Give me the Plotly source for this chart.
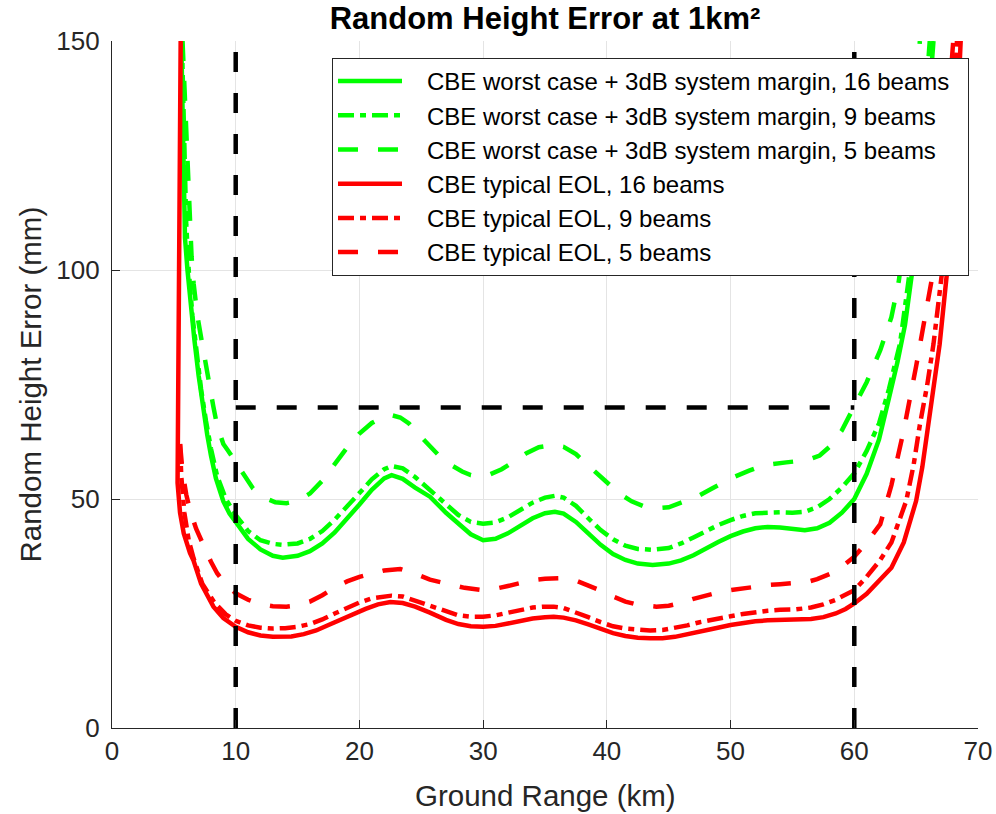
import plotly.graph_objects as go

# ---- data ----
g16_x = [5.6, 5.75, 5.9, 6.1, 6.35, 6.65, 7.0, 7.35, 7.7, 8.0, 8.4, 9.0, 9.5, 10, 11, 12, 13, 13.8, 15, 16, 17, 18, 19, 20, 21, 22, 22.6, 23.5, 24.5, 25.7, 27, 28, 29, 30, 31, 32, 33, 34, 35, 35.8, 36.5, 37.5, 38.5, 39.5, 40.5, 41.5, 42.5, 43.7, 45, 46, 47, 48, 49, 50, 51, 52, 53, 54, 55, 56, 57, 58, 59, 60, 61, 62, 62.8, 63.5, 64.1, 64.7, 65.3, 65.9, 66.4]
g16_y = [150, 125, 107, 100, 92, 85, 77, 70, 64, 59.5, 54.5, 49.5, 46.8, 45, 41.3, 39, 37.6, 37.2, 37.6, 38.6, 40.3, 42.7, 45.6, 48.8, 52, 54.5, 55.2, 54.4, 52.5, 50.5, 47, 44.5, 42.3, 41, 41.3, 42.5, 44.2, 45.8, 46.9, 47.2, 46.8, 45, 42.5, 40, 38, 36.7, 35.9, 35.6, 35.9, 36.6, 37.7, 39.2, 40.6, 41.9, 42.9, 43.6, 43.9, 43.8, 43.4, 43.2, 43.6, 44.8, 47, 50, 55.5, 63, 72, 80, 88, 100, 115, 132, 150]

g9_x = [5.65, 5.85, 6.0, 6.2, 6.5, 6.85, 7.2, 7.6, 8.0, 8.5, 9.2, 10, 11, 12, 13, 13.8, 15, 16, 17, 18, 19, 20, 21, 22, 22.6, 23.5, 24.5, 25.7, 27, 28, 29, 30, 31, 32, 33, 34, 35, 35.8, 36.5, 37.5, 38.5, 39.5, 40.5, 41.5, 42.5, 43.7, 45, 46, 47, 48, 49, 50, 51, 52, 53, 54, 55, 56, 57, 58, 59, 60, 61, 62, 62.8, 63.7, 64.5, 65.2, 65.7, 66.1]
g9_y = [150, 125, 110, 100, 90, 82, 74, 67, 61, 55, 50, 46.5, 43, 41, 40.2, 40, 40.3, 41.3, 43, 45.5, 48.3, 51.3, 54.3, 56.5, 57.2, 56.7, 54.8, 52, 48.8, 46.5, 45, 44.6, 44.9, 46, 47.6, 49.2, 50.3, 50.7, 50.3, 48.5, 45.8, 43.2, 41.2, 39.8, 39.1, 38.9, 39.3, 40.3, 41.6, 43, 44.3, 45.4, 46.3, 46.9, 47.1, 47.1, 47, 47.2, 48.2, 50, 52.5, 55.6, 60.5, 66.5, 74, 84, 100, 118, 135, 150]

g5_x = [5.7, 6.0, 6.2, 6.43, 6.6, 6.9, 7.24, 7.65, 8.19, 8.5, 9.0, 9.4, 10, 10.7, 11.4, 12.3, 13.2, 14.1, 15, 16, 17, 18, 19, 20, 21, 22, 22.6, 23.3, 24, 25, 25.7, 26.5, 27.3, 28.3, 29, 29.75, 30.5, 31.5, 32.5, 33.5, 34.5, 35.7, 36.5, 37.5, 38.3, 39.2, 40, 41, 42, 43, 44, 45, 46, 47.3, 48.5, 50, 51.5, 52.7, 54.5, 56.2, 57.2, 58, 59, 60, 61, 62.1, 63, 63.6, 64.2, 64.8, 65.3]
g5_y = [150, 130, 115, 103, 97, 90, 84.7, 78, 70.2, 66, 62, 60.5, 58, 55, 52.3, 50.3, 49.3, 49.1, 49.6, 51.2, 54, 57.6, 61.2, 64.3, 66.6, 68, 68.3, 67.8, 66.5, 63.5, 61.4, 59.3, 57.6, 56, 55.2, 54.9, 55.3, 56.5, 58.2, 60, 61.3, 61.8, 61.4, 59.8, 57.8, 55.6, 53.4, 51.2, 49.5, 48.4, 48, 48.2, 49.2, 50.5, 52.3, 54.5, 56.2, 57.4, 58, 58.5, 59.5, 61.4, 65, 70.2, 75.5, 82.5, 89.7, 97.6, 110, 130, 150]

r16_x = [5.55, 5.45, 5.35, 5.3, 5.3, 5.5, 5.8, 6.3, 6.57, 7.2, 8.2, 9, 10, 11, 12, 13, 13.6, 14.5, 15.5, 16.5, 17.5, 18.5, 19.5, 20.5, 21.5, 22.5, 23.5, 24.5, 25.7, 27, 28, 29, 30, 31, 32, 33, 34, 35, 35.7, 36.5, 37.5, 38.5, 39.5, 40.5, 41.5, 42.5, 43.5, 44.5, 45.5, 46.5, 47.5, 48.5, 50, 51, 52, 53, 54, 55.3, 56.5, 57.5, 58.5, 59.3, 60, 61, 62.1, 63, 64, 65, 65.5, 66, 66.5, 66.9, 67.5, 68, 68.3, 68.6]
r16_y = [150, 110, 75, 60, 53.5, 47, 42.5, 38.2, 36.7, 31.5, 26.5, 24, 22.1, 20.9, 20.2, 19.9, 19.9, 20, 20.5, 21.3, 22.5, 23.7, 24.8, 26, 27, 27.5, 27.3, 26.5, 25.2, 23.6, 22.7, 22.2, 22.1, 22.3, 22.8, 23.4, 23.9, 24.2, 24.3, 24.1, 23.5, 22.6, 21.6, 20.7, 20.1, 19.7, 19.6, 19.6, 19.9, 20.4, 21, 21.6, 22.5, 23, 23.3, 23.5, 23.6, 23.6, 23.8, 24.2, 25, 26, 27.2, 29.3, 32.3, 35, 40.5, 49.6, 57, 66.2, 75, 83.8, 99.6, 118, 132, 150]

r9_x = [5.5, 5.6, 5.85, 6.2, 6.6, 7.3, 8.3, 9.2, 10, 11, 12, 13, 14, 15, 16, 17, 18, 19, 20, 21, 22, 22.6, 23.5, 24.5, 25.7, 27, 28, 29, 30, 31, 32, 33, 34, 35, 35.7, 36.5, 37.5, 38.5, 39.5, 40.5, 41.5, 42.5, 43.5, 44.5, 45.5, 46.5, 47.5, 48.5, 50, 51, 52, 53, 54, 55.3, 56.5, 57.5, 58.5, 59.3, 60, 61, 62.1, 63, 64.2, 64.8, 65.3, 65.9, 66.4, 67.1, 67.6, 68, 68.3]
r9_y = [62, 55, 47, 41, 37, 31.5, 27.3, 24.8, 23.4, 22.4, 21.9, 21.7, 21.8, 22.1, 22.7, 23.7, 25, 26.3, 27.4, 28.3, 28.8, 28.9, 28.7, 27.8, 26.6, 25.3, 24.6, 24.3, 24.3, 24.6, 25.2, 25.8, 26.3, 26.5, 26.5, 26.2, 25.3, 24.2, 23.1, 22.2, 21.7, 21.4, 21.3, 21.4, 21.8, 22.4, 23.1, 23.7, 24.4, 24.9, 25.3, 25.6, 25.8, 25.9, 26.3, 27, 28, 29, 30.1, 33, 36.7, 40.5, 49.6, 57.5, 66.2, 75, 83.8, 99.6, 118, 134, 150]

r5_x = [5.5, 5.7, 6.0, 6.3, 6.8, 7.4, 8.0, 8.5, 9.2, 10, 11, 12, 13, 14.1, 15, 16, 17, 18, 19, 20, 21, 22, 23.3, 24.5, 25.7, 27.3, 28.5, 30, 31, 32, 33, 34, 35, 36.5, 37.5, 38.5, 39.5, 40.5, 41.5, 42.5, 44, 45, 46, 47, 48, 49, 50, 51, 52, 53, 54, 55, 56.2, 57, 58, 59, 60, 61, 62.1, 63, 64, 65, 65.9, 66.5, 67.1, 67.6, 68]
r5_y = [62, 56, 51, 47.6, 43.5, 39.6, 36.3, 33.8, 31.3, 29.4, 28, 27, 26.6, 26.5, 26.8, 27.6, 29, 30.7, 32, 33, 33.8, 34.4, 34.7, 33.7, 32.4, 31.4, 30.6, 30.1, 30.4, 31, 31.7, 32.3, 32.6, 32.7, 32.2, 31.2, 30, 28.7, 27.6, 26.9, 26.5, 26.7, 27.3, 28.2, 29, 29.6, 30.1, 30.5, 30.9, 31.2, 31.4, 31.6, 31.9, 32.5, 33.6, 35.2, 37.4, 40.5, 44.5, 53, 65, 79, 92, 101.5, 118, 135, 150]

ref_v1_x = [10, 10]
ref_v1_y = [0, 150]
ref_v2_x = [60, 60]
ref_v2_y = [0, 150]
ref_h_x = [10, 60]
ref_h_y = [70, 70]

names = [
    "CBE worst case + 3dB system margin, 16 beams",
    "CBE worst case + 3dB system margin, 9 beams",
    "CBE worst case + 3dB system margin, 5 beams",
    "CBE typical EOL, 16 beams",
    "CBE typical EOL, 9 beams",
    "CBE typical EOL, 5 beams",
]
x_ticks = [0, 10, 20, 30, 40, 50, 60, 70]
y_ticks = [0, 50, 100, 150]

GREEN = "#00ff00"
RED = "#ff0000"
DASH = "20px,20px"
DASHDOT = "16px,6px,6px,6px"
LW = 4.5
NB = "\u00a0"

series = [
    (g16_x, g16_y, names[0], GREEN, "solid"),
    (g9_x, g9_y, names[1], GREEN, DASHDOT),
    (g5_x, g5_y, names[2], GREEN, DASH),
    (r16_x, r16_y, names[3], RED, "solid"),
    (r9_x, r9_y, names[4], RED, DASHDOT),
    (r5_x, r5_y, names[5], RED, DASH),
]

fig = go.Figure()
for xs, ys, nm, col, dash in series:
    fig.add_trace(go.Scatter(x=xs, y=ys, name=NB * 3 + nm + NB * 2, mode="lines",
                             line=dict(color=col, width=LW, dash=dash)))

for xs, ys in [(ref_v1_x, ref_v1_y), (ref_v2_x, ref_v2_y), (ref_h_x, ref_h_y)]:
    fig.add_trace(go.Scatter(x=xs, y=ys, mode="lines", showlegend=False,
                             line=dict(color="black", width=4.5, dash="20px,21px")))

FONT = "Liberation Sans, Arial, Helvetica, sans-serif"
AX = "#262626"

fig.update_layout(
    width=996, height=814,
    margin=dict(l=112, r=18, t=41, b=86, autoexpand=False),
    plot_bgcolor="white", paper_bgcolor="white",
    font=dict(family=FONT, color=AX, size=26),
    title=dict(text="<b>Random Height Error at 1km²</b>", x=0.5, xref="paper",
               xanchor="center", y=1 - 18 / 814, yref="container", yanchor="middle",
               font=dict(size=31, color="black", family=FONT)),
    showlegend=True,
    legend=dict(x=(969 - 112) / 866, y=(728 - 58) / 687, xanchor="right", yanchor="top",
                bgcolor="white", bordercolor=AX, borderwidth=1,
                font=dict(size=24, color="black", family=FONT),
                itemwidth=64, tracegroupgap=0),
)
fig.update_xaxes(range=[0, 70], tickvals=x_ticks, ticks="inside", ticklen=8,
                 tickcolor=AX, showline=True, linecolor=AX, linewidth=1.2,
                 showgrid=True, gridcolor="#e4e4e4", gridwidth=1, zeroline=False,
                 automargin=False, tickfont=dict(size=26, color=AX))
fig.update_yaxes(range=[0, 150], tickvals=y_ticks, ticks="inside", ticklen=8,
                 tickcolor=AX, showline=True, linecolor=AX, linewidth=1.2,
                 showgrid=True, gridcolor="#e4e4e4", gridwidth=1, zeroline=False,
                 automargin=False, ticklabelstandoff=6, tickfont=dict(size=26, color=AX))

fig.add_annotation(text="Ground Range (km)", xref="paper", yref="paper",
                   x=0.5, y=(728 - 795) / 687, xanchor="center", yanchor="middle",
                   showarrow=False, font=dict(size=29.5, color=AX, family=FONT))
fig.add_annotation(text="Random Height Error (mm)", xref="paper", yref="paper",
                   x=(30 - 112) / 866, y=0.5, xanchor="center", yanchor="middle",
                   textangle=-90, showarrow=False, font=dict(size=29.5, color=AX, family=FONT))

fig.write_html("out.html", config={"displayModeBar": False},
               post_script="document.body.style.margin='0';document.body.style.overflow='hidden';")
